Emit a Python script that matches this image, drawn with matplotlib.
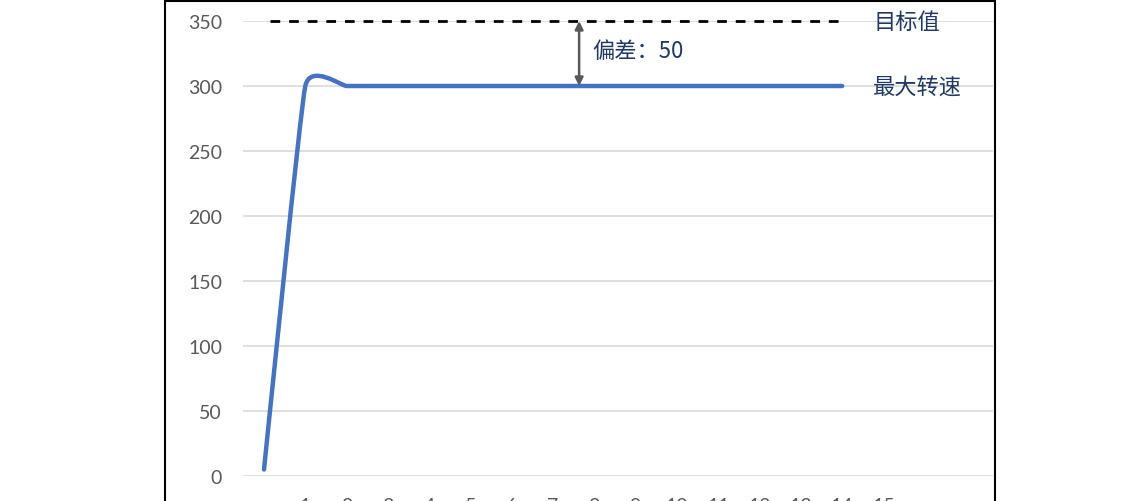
import matplotlib.pyplot as plt
import numpy as np
from matplotlib.path import Path
from matplotlib.patches import PathPatch, Rectangle

plt.rcParams['font.family'] = ['Noto Sans CJK SC', 'DejaVu Sans']

# 数据
steps = list(range(15))
speed = [5] + [300] * 14
target = 350
tick_values = list(range(1, 16))
y_ticks = [0, 50, 100, 150, 200, 250, 300, 350]

line_color = '#4472C4'
text_color = '#1F3864'
grid_color = '#D9D9D9'


def smooth_path(xs, ys, s=0.06):
    # 类似 Excel 平滑线：贝塞尔曲线
    pts = np.column_stack([xs, ys]).astype(float)
    n = len(pts)
    verts = [pts[0]]
    codes = [Path.MOVETO]
    for i in range(n - 1):
        p_prev = pts[i - 1] if i > 0 else pts[i]
        p_next2 = pts[i + 2] if i + 2 < n else pts[i + 1]
        c1 = pts[i] + s * (pts[i + 1] - p_prev)
        c2 = pts[i + 1] - s * (p_next2 - pts[i])
        verts += [c1, c2, pts[i + 1]]
        codes += [Path.CURVE4] * 3
    return Path(verts, codes)


W, H = 1134, 502
fig = plt.figure(figsize=(W / 100, H / 100), dpi=100)
ax = fig.add_axes([243 / W, 1 - 477 / H, (993 - 243) / W, (477 - 22) / H])

unit = 41.3
ax.set_xlim(-(264 - 243) / unit, (993 - 264) / unit)
ax.set_ylim(0, 350)

for sp in ax.spines.values():
    sp.set_visible(False)
ax.set_yticks(y_ticks)
ax.set_xticks(tick_values)
ax.set_xticklabels([str(v) for v in tick_values])
ax.yaxis.grid(True, color=grid_color, linewidth=1.2)
ax.set_axisbelow(True)
ax.tick_params(axis='both', length=0, labelsize=14, labelcolor='#595959')
ax.tick_params(axis='y', pad=15)
ax.tick_params(axis='x', pad=15)
for lab in ax.get_xticklabels() + ax.get_yticklabels():
    lab.set_family(['Lato', 'DejaVu Sans'])

patch = PathPatch(smooth_path(steps, speed), facecolor='none', edgecolor=line_color,
                  linewidth=3.2, capstyle='round', joinstyle='round')
ax.add_patch(patch)

ax.plot([0.15, steps[-1]], [target, target], color='black', linewidth=2,
        linestyle=(0, (3.5, 3.2)), dash_capstyle='butt', clip_on=False)

ax.annotate('', xy=(7.63, target), xytext=(7.63, speed[-1]),
            arrowprops=dict(arrowstyle='<|-|>', color='#595959', lw=1.8,
                            shrinkA=0, shrinkB=0, mutation_scale=12))
ax.text(7.94, 327, '偏差：50', color=text_color, fontsize=16, ha='left', va='center')
ax.text(14.75, target, '目标值', color=text_color, fontsize=16, ha='left', va='center')
ax.text(14.75, speed[-1], '最大转速', color=text_color, fontsize=16, ha='left', va='center')

# 外框
fig.patches.append(Rectangle((165 / W, -0.1), (995 - 165) / W, 1.1 - 1.5 / H,
                             transform=fig.transFigure, fill=False,
                             edgecolor='black', linewidth=1.5))

fig.savefig('out.png', dpi=100)
